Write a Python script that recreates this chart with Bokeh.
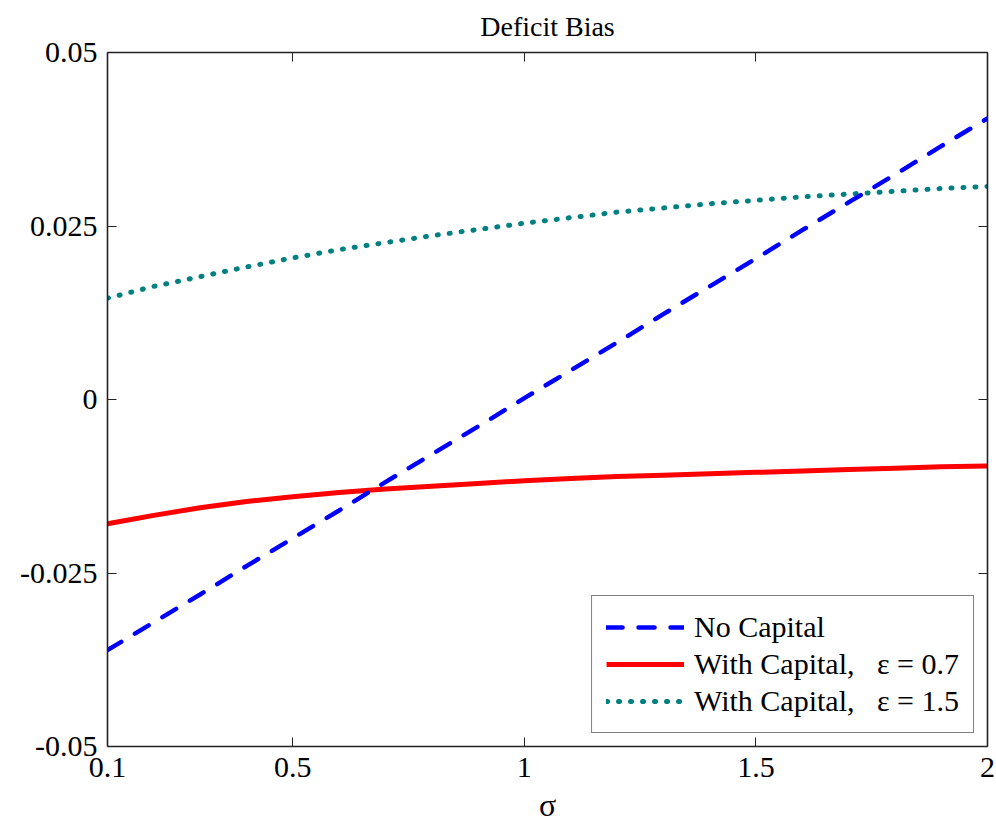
from bokeh.plotting import figure
from bokeh.models import (Range1d, FixedTicker, LinearAxis, Legend, LegendItem,
                          ColumnDataSource)
from bokeh.embed import file_html
from bokeh.resources import INLINE

# ---- data ----
sigma = [0.1, 0.2, 0.3, 0.4, 0.5, 0.6, 0.7, 0.8, 0.9, 1.0,
         1.1, 1.2, 1.3, 1.4, 1.5, 1.6, 1.7, 1.8, 1.9, 2.0]
no_capital = [-0.0361, -0.0321, -0.0281, -0.0240, -0.0200, -0.0160, -0.0119,
              -0.0079, -0.0039, 0.0002, 0.0042, 0.0082, 0.0123, 0.0163,
              0.0203, 0.0244, 0.0284, 0.0324, 0.0365, 0.0405]
with_cap_07 = [-0.0179, -0.0167, -0.0156, -0.0147, -0.0140, -0.0134, -0.0129,
               -0.0125, -0.0121, -0.0117, -0.0114, -0.0111, -0.0109, -0.0107,
               -0.0105, -0.0103, -0.0101, -0.0099, -0.0097, -0.0096]
with_cap_15 = [0.0146, 0.0163, 0.0177, 0.0191, 0.0204, 0.0216, 0.0226, 0.0236,
               0.0245, 0.0254, 0.0262, 0.0270, 0.0276, 0.0282, 0.0287, 0.0292,
               0.0296, 0.0300, 0.0304, 0.0307]

x_ticks = [0.1, 0.5, 1, 1.5, 2]
x_tick_labels = ["0.1", "0.5", "1", "1.5", "2"]
y_ticks = [-0.05, -0.025, 0, 0.025, 0.05]
y_tick_labels = ["-0.05", "-0.025", "0", "0.025", "0.05"]

series_labels = ["No Capital",
                 "With Capital,\u00a0\u00a0\u00a0\u03b5 = 0.7",
                 "With Capital,\u00a0\u00a0\u00a0\u03b5 = 1.5"]

FONT = "Liberation Serif"
AX = "#222222"

p = figure(width=996, height=825, output_backend="svg", toolbar_location=None,
           x_range=Range1d(0.1, 2), y_range=Range1d(-0.05, 0.05),
           min_border_left=107, min_border_right=9, min_border_top=52,
           min_border_bottom=78)
p.title.text = "Deficit Bias"
p.title.align = "center"
p.title.vertical_align = "top"
p.title.text_font = FONT
p.title.text_font_size = "28px"
p.title.text_font_style = "normal"
p.title.text_color = "black"
p.title.standoff = 17

p.xgrid.visible = False
p.ygrid.visible = False
p.outline_line_color = None
p.background_fill_color = "white"
p.border_fill_color = "white"

src = ColumnDataSource(dict(x=sigma, a=no_capital, b=with_cap_07, c=with_cap_15))

r_teal = p.line("x", "c", source=src, line_color="#008080", line_width=5,
                line_dash="1 11", line_cap="round")
r_red = p.line("x", "b", source=src, line_color="#ff0000", line_width=5)
r_blue = p.line("x", "a", source=src, line_color="#0000ff", line_width=4.5,
                line_dash="16 16", line_cap="round")


def style_axis(ax, ticks, labels=None):
    ax.ticker = FixedTicker(ticks=ticks)
    ax.minor_tick_line_color = None
    ax.major_tick_in = 9
    ax.major_tick_out = 0
    ax.major_tick_line_color = AX
    ax.major_tick_line_width = 1
    ax.axis_line_color = AX
    ax.axis_line_width = 1.6
    ax.major_label_text_font = FONT
    if labels is not None:
        ax.major_label_overrides = {t: l for t, l in zip(ticks, labels)}
        ax.major_label_text_color = "black"
        ax.major_label_text_font_size = "30px"
        ax.major_label_standoff = 10
    else:
        ax.major_label_text_color = None
        ax.major_label_text_font_size = "1px"
        ax.major_label_standoff = 0


xa = p.xaxis[0]
style_axis(xa, x_ticks, x_tick_labels)
xa.major_label_standoff = 11
xa.axis_label = "\u03c3"
xa.axis_label_text_font = FONT
xa.axis_label_text_font_size = "32px"
xa.axis_label_text_font_style = "normal"
xa.axis_label_text_color = "black"
xa.axis_label_standoff = 7

ya = p.yaxis[0]
style_axis(ya, y_ticks, y_tick_labels)

top = LinearAxis()
p.add_layout(top, "above")
style_axis(top, x_ticks)

right = LinearAxis()
p.add_layout(right, "right")
style_axis(right, y_ticks)

legend = Legend(items=[LegendItem(label=series_labels[0], renderers=[r_blue]),
                       LegendItem(label=series_labels[1], renderers=[r_red]),
                       LegendItem(label=series_labels[2], renderers=[r_teal])],
                location="bottom_right")
legend.margin = 13
legend.padding = 14
legend.spacing = 3
legend.glyph_width = 78
legend.glyph_height = 30
legend.label_height = 30
legend.label_standoff = 10
legend.label_text_font = FONT
legend.label_text_font_size = "30px"
legend.label_text_color = "black"
legend.border_line_color = "black"
legend.border_line_width = 1.5
legend.background_fill_color = "white"
legend.background_fill_alpha = 1
p.add_layout(legend, "center")

open("out.html", "w").write(file_html(p, INLINE))
